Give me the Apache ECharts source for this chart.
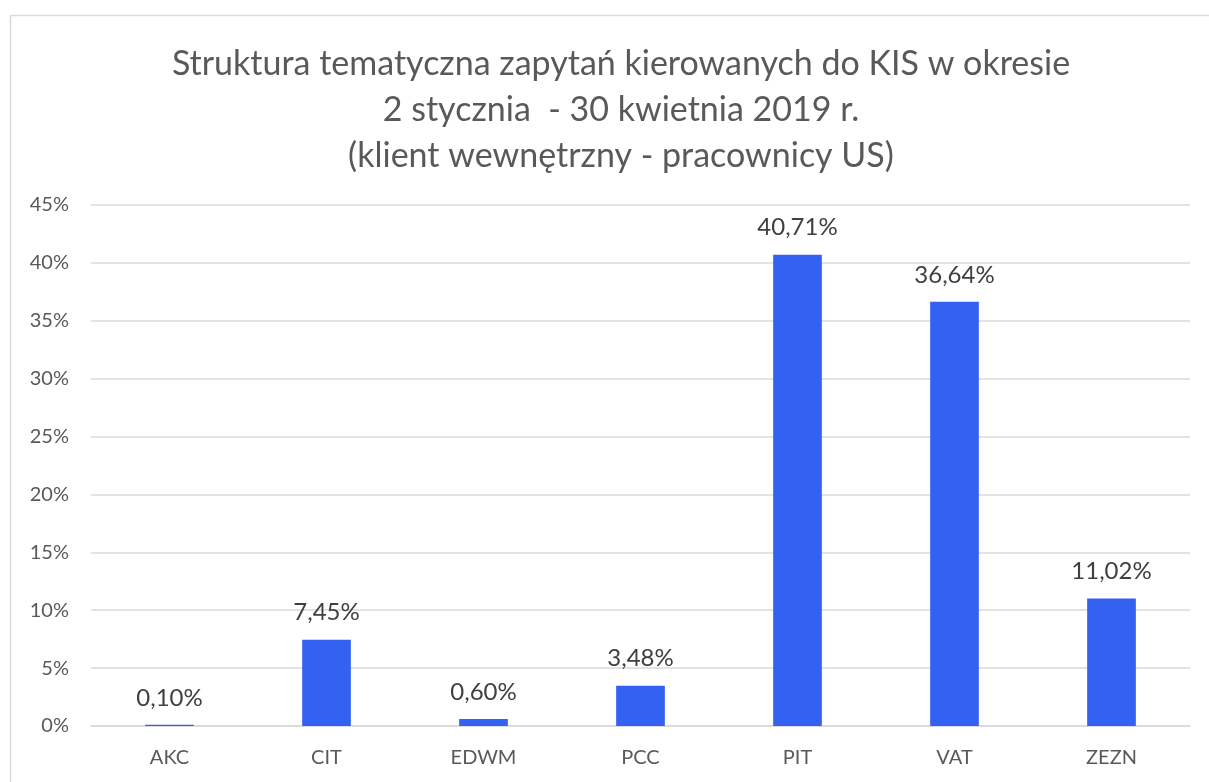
<!DOCTYPE html>
<html><head><meta charset="utf-8">
<script src="https://cdn.jsdelivr.net/npm/echarts@6/dist/echarts.min.js"></script>
<style>html,body{margin:0;padding:0;background:#fff}#c{width:1209px;height:782px}</style>
</head><body><div id="c"></div>
<script>
const categories = ['AKC','CIT','EDWM','PCC','PIT','VAT','ZEZN'];
const values = [0.10, 7.45, 0.60, 3.48, 40.71, 36.64, 11.02];
const titleLines = ['Struktura tematyczna zapytań kierowanych do KIS w okresie','2 stycznia  - 30 kwietnia 2019 r.','(klient wewnętrzny - pracownicy US)'];
const FONT = 'Lato, "Open Sans", sans-serif';
const chart = echarts.init(document.getElementById('c'), null, {renderer:'canvas'});
chart.setOption({
  animation:false,
  backgroundColor:'#fff',
  graphic:[{type:'rect',shape:{x:10.5,y:15.5,width:1220,height:800},style:{fill:'none',stroke:'#d9d9d9',lineWidth:1.5},silent:true}],
  title:{text:titleLines.join('\n'),left:616,textAlign:'center',top:36,
    textStyle:{color:'#595959',fontSize:34,fontWeight:'normal',fontFamily:FONT,lineHeight:46}},
  grid:{left:91,right:19,top:205,bottom:56},
  xAxis:{type:'category',data:categories,axisTick:{show:false},
    axisLine:{lineStyle:{color:'#d9d9d9',width:1.5}},
    axisLabel:{color:'#595959',fontSize:20,fontFamily:FONT,margin:22}},
  yAxis:{type:'value',min:0,max:45,interval:5,
    axisLabel:{formatter:'{value}%',color:'#595959',fontSize:20,fontFamily:FONT,margin:22},
    axisLine:{show:false},axisTick:{show:false},
    splitLine:{lineStyle:{color:'#d9d9d9',width:1.5}}},
  series:[{type:'bar',data:values,barWidth:'31%',
    itemStyle:{color:'#3361f2'},
    label:{show:true,position:'top',distance:15,color:'#404040',fontSize:24,fontFamily:FONT,
      formatter:p=>p.value.toFixed(2).replace('.',',')+'%'}}]
});
</script></body></html>
